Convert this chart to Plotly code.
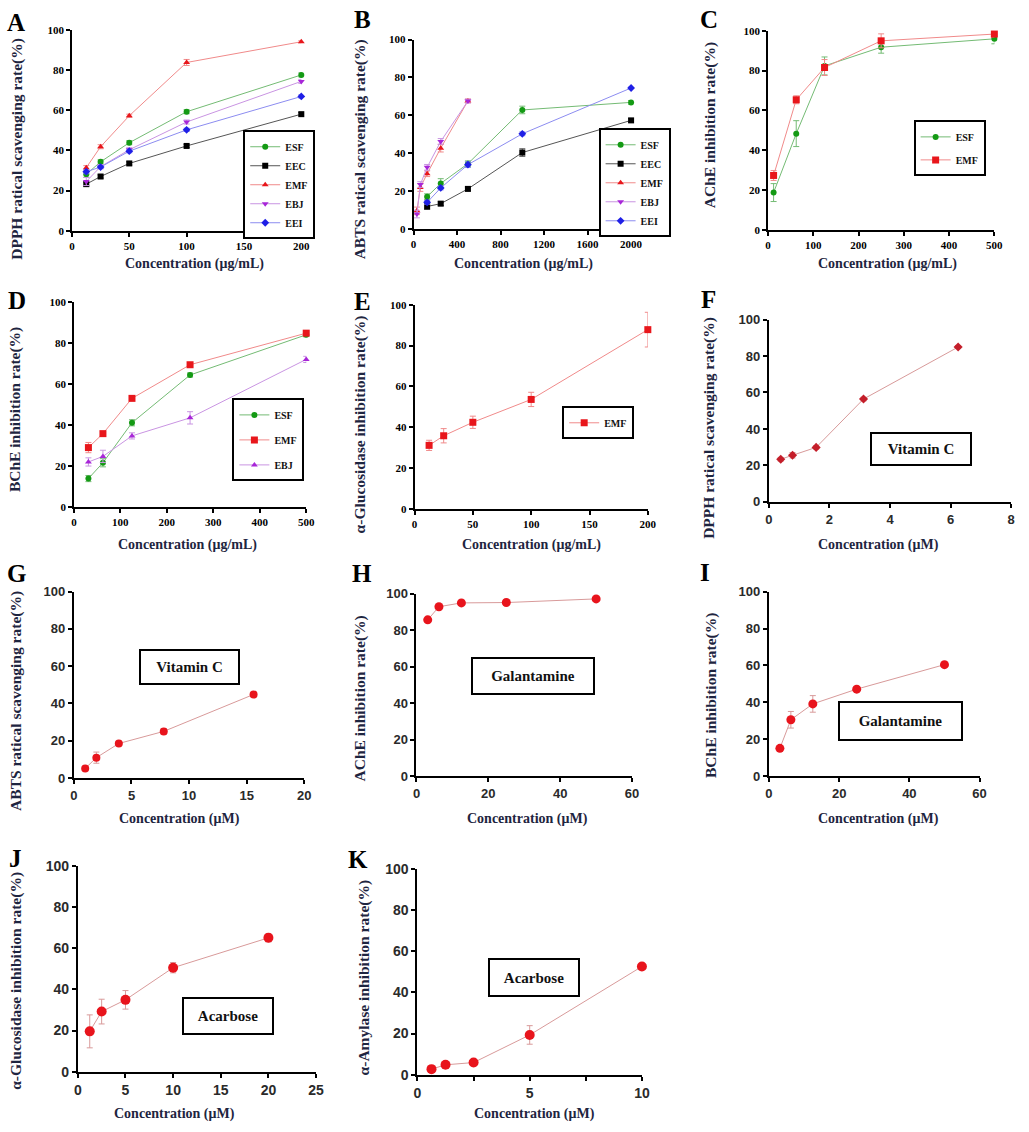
import plotly.graph_objects as go

W, H = 1029, 1132

# ---------------- DATA ----------------
# A: DPPH radical scavenging (extracts)
A_conc = [12.5, 25, 50, 100, 200]
A_ESF = [28.1, 34.3, 43.8, 59.2, 77.5]
A_EEC = [23.2, 27.0, 33.5, 42.2, 58.0]
A_EMF = [31.4, 41.8, 57.2, 83.7, 94.0]
A_EBJ = [24.5, 31.9, 40.3, 54.1, 74.3]
A_EEI = [29.4, 31.7, 39.6, 50.2, 66.8]
A_ESF_err = [1.5, 1.0, 1.0, 1.0, 1.0]
A_EEC_err = [1.0, 0.8, 0.8, 0.8, 0.8]
A_EMF_err = [1.0, 1.0, 0.8, 1.5, 0.5]
A_EBJ_err = [2.0, 1.0, 1.0, 1.0, 1.0]
A_EEI_err = [1.0, 0.8, 0.8, 0.8, 0.8]

# B: ABTS radical scavenging (extracts)
B_conc_low = [31.25, 62.5, 125, 250, 500]
B_conc_high = [125, 250, 500, 1000, 2000]
B_ESF = [17.0, 24.0, 34.4, 62.8, 66.8]
B_EEC = [11.8, 13.3, 21.1, 40.3, 57.3]
B_EMF = [9.5, 21.8, 29.1, 42.6, 67.6]
B_EBJ = [7.8, 23.4, 32.5, 46.2, 67.5]
B_EEI = [14.0, 21.6, 33.9, 50.2, 74.4]
B_ESF_err = [1.5, 2.5, 1.5, 2.0, 1.0]
B_EEC_err = [1.5, 1.0, 1.0, 2.0, 1.0]
B_EMF_err = [2.0, 2.0, 1.5, 2.0, 1.0]
B_EBJ_err = [2.0, 1.5, 1.5, 1.5, 1.0]
B_EEI_err = [1.0, 1.0, 1.5, 1.0, 0.5]

# C: AChE inhibition (extracts)
C_conc = [12.5, 62.5, 125, 250, 500]
C_ESF = [18.7, 48.3, 82.3, 91.7, 95.9]
C_EMF = [27.3, 65.3, 81.5, 94.9, 98.3]
C_ESF_err = [4.5, 6.5, 4.5, 3.0, 2.5]
C_EMF_err = [2.5, 2.0, 4.0, 3.5, 1.5]

# D: BChE inhibition (extracts)
D_conc = [31.25, 62.5, 125, 250, 500]
D_ESF = [13.8, 21.5, 41.0, 64.3, 83.9]
D_EMF = [28.9, 35.7, 52.9, 69.3, 84.7]
D_EBJ = [21.9, 24.6, 34.6, 43.4, 71.9]
D_ESF_err = [1.5, 2.0, 1.5, 1.0, 1.0]
D_EMF_err = [2.5, 1.0, 1.0, 1.0, 1.0]
D_EBJ_err = [2.0, 3.0, 1.5, 3.0, 1.5]

# E: alpha-glucosidase inhibition (EMF)
E_conc = [12.5, 25, 50, 100, 200]
E_EMF = [31.1, 35.8, 42.4, 53.6, 87.8]
E_EMF_err = [2.5, 3.5, 3.0, 3.5, 8.5]

# F: DPPH, Vitamin C
F_conc = [0.39, 0.78, 1.56, 3.125, 6.25]
F_VC = [23.4, 25.6, 29.9, 56.4, 84.9]
F_VC_err = [1.0, 1.5, 1.0, 1.0, 0.8]

# G: ABTS, Vitamin C
G_conc = [0.98, 1.95, 3.9, 7.8, 15.6]
G_VC = [5.1, 10.9, 18.5, 25.0, 44.8]
G_VC_err = [0.8, 3.0, 1.0, 1.5, 0.8]

# H: AChE, Galantamine
H_conc = [3.125, 6.25, 12.5, 25, 50]
H_GAL = [85.6, 92.8, 94.9, 95.1, 97.1]
H_GAL_err = [1.0, 1.0, 0.8, 0.8, 0.5]

# I: BChE, Galantamine
I_conc = [3.125, 6.25, 12.5, 25, 50]
I_GAL = [15.0, 30.5, 39.1, 47.1, 60.4]
I_GAL_err = [1.0, 4.5, 4.5, 1.0, 1.0]

# J: alpha-glucosidase, Acarbose
J_conc = [1.25, 2.5, 5, 10, 20]
J_ACA = [19.6, 29.2, 34.9, 50.5, 65.0]
J_ACA_err = [8.0, 6.0, 4.5, 2.5, 2.0]

# K: alpha-amylase, Acarbose
K_conc = [0.625, 1.25, 2.5, 5, 10]
K_ACA = [2.7, 4.8, 5.9, 19.3, 52.5]
K_ACA_err = [1.5, 1.5, 1.5, 4.5, 1.5]

Y_TICKS = [0, 20, 40, 60, 80, 100]

# ---------------- STYLE ----------------
SERIF = "Liberation Serif, Times New Roman, serif"
SANS = "Liberation Sans, Arial, sans-serif"
TITLE_COLOR = "#1e2540"

STY = {
    "ESF": dict(mc="#149a14", lc="#74bb74", sym="circle"),
    "EEC": dict(mc="#000000", lc="#555555", sym="square"),
    "EMF": dict(mc="#e8161b", lc="#f08a8a", sym="triangle-up"),
    "EBJ": dict(mc="#a826d8", lc="#c994e2", sym="triangle-down"),
    "EEI": dict(mc="#1f1fe6", lc="#8c8cf0", sym="diamond"),
}
STD_MC = "#e8141c"
STD_LC = "#d89a9a"

fig = go.Figure()


def dom_x(x0, x1):
    return [x0 / W, x1 / W]


def dom_y(y0, y1):
    return [1 - y1 / H, 1 - y0 / H]


def ax_names(i):
    s = "" if i == 1 else str(i)
    return "x" + s, "y" + s, "xaxis" + s, "yaxis" + s


def add_series(i, x, y, err, name, mc, lc, sym, msize, legend=None, lw=1.0, group=None):
    xr, yr, _, _ = ax_names(i)
    fig.add_trace(go.Scatter(
        x=x, y=y, name=name, mode="lines+markers",
        xaxis=xr, yaxis=yr, cliponaxis=False,
        line=dict(color=lc, width=lw),
        marker=dict(color=mc, symbol=sym, size=msize, line=dict(width=0)),
        error_y=dict(type="data", array=err, color=lc, thickness=1, width=3),
        showlegend=legend is not None,
        legend=legend if legend else "legend",
        legendgroup=group,
    ))


def setup_axes(i, xd, yd, xrange, xticks, sans, xticktext=None, tsize=11, lw=1.5):
    _, _, xa, ya = ax_names(i)
    xr, yr, _, _ = ax_names(i)
    fam = SANS if sans else SERIF
    tcol = "#2a2a2a" if sans else "#000000"
    common = dict(showline=True, linecolor="#000000", linewidth=lw,
                  ticks="outside", ticklen=4, tickwidth=lw, tickcolor="#000000",
                  showgrid=False, zeroline=False,
                  tickfont=dict(family=fam, size=tsize, color=tcol, weight="bold"))
    xa_d = dict(domain=dom_x(*xd), range=xrange, anchor=yr, tickmode="array",
                tickvals=xticks, **common)
    if xticktext is not None:
        xa_d["ticktext"] = xticktext
    fig.layout[xa] = xa_d
    fig.layout[ya] = dict(domain=dom_y(*yd), range=[0, 100], anchor=xr,
                          tickmode="array", tickvals=Y_TICKS, **common)


# ---- Panel A ----
setup_axes(1, (69, 302), (22, 226), [0, 200], [0, 50, 100, 150, 200], False)
for nm, ys, es in [("ESF", A_ESF, A_ESF_err), ("EEC", A_EEC, A_EEC_err),
                   ("EMF", A_EMF, A_EMF_err), ("EBJ", A_EBJ, A_EBJ_err),
                   ("EEI", A_EEI, A_EEI_err)]:
    s = STY[nm]
    add_series(1, A_conc, ys, es, nm, s["mc"], s["lc"], s["sym"], 6, legend="legend")

# ---- Panel B ----
setup_axes(2, (416, 637), (32, 224), [0, 2000], [0, 400, 800, 1200, 1600, 2000], False)
for nm, xs, ys, es in [("ESF", B_conc_high, B_ESF, B_ESF_err), ("EEC", B_conc_high, B_EEC, B_EEC_err),
                       ("EMF", B_conc_low, B_EMF, B_EMF_err), ("EBJ", B_conc_low, B_EBJ, B_EBJ_err),
                       ("EEI", B_conc_high, B_EEI, B_EEI_err)]:
    s = STY[nm]
    add_series(2, xs, ys, es, nm, s["mc"], s["lc"], s["sym"], 6, legend="legend2")

# ---- Panel C ----
setup_axes(3, (776, 1006), (23, 225), [0, 500], [0, 100, 200, 300, 400, 500], False)
add_series(3, C_conc, C_ESF, C_ESF_err, "ESF", STY["ESF"]["mc"], STY["ESF"]["lc"], "circle", 6,
           legend="legend3", group="c1")
add_series(3, C_conc, C_EMF, C_EMF_err, "EMF", STY["EMF"]["mc"], STY["EMF"]["lc"], "square", 7,
           legend="legend3", group="c2")

# ---- Panel D ----
setup_axes(4, (71, 307), (298, 506), [0, 500], [0, 100, 200, 300, 400, 500], False)
add_series(4, D_conc, D_ESF, D_ESF_err, "ESF", STY["ESF"]["mc"], STY["ESF"]["lc"], "circle", 6,
           legend="legend4", group="d1")
add_series(4, D_conc, D_EMF, D_EMF_err, "EMF", STY["EMF"]["mc"], STY["EMF"]["lc"], "square", 7,
           legend="legend4", group="d2")
add_series(4, D_conc, D_EBJ, D_EBJ_err, "EBJ", STY["EBJ"]["mc"], STY["EBJ"]["lc"], "triangle-up", 6,
           legend="legend4", group="d3")

# ---- Panel E ----
setup_axes(5, (417, 654), (301, 508), [0, 200], [0, 50, 100, 150, 200], False)
add_series(5, E_conc, E_EMF, E_EMF_err, "EMF", STY["EMF"]["mc"], STY["EMF"]["lc"], "square", 7,
           legend="legend5")

# ---- Panel F ----
setup_axes(6, (777, 1023), (316, 501), [0, 8], [0, 2, 4, 6, 8], True, tsize=13, lw=2)
add_series(6, F_conc, F_VC, F_VC_err, "Vitamin C", "#c41e2a", STD_LC, "diamond", 7)

# ---- Panel G ----
setup_axes(7, (71, 305), (592, 781), [0, 20], [0, 5, 10, 15, 20], True, tsize=13, lw=2)
add_series(7, G_conc, G_VC, G_VC_err, "Vitamin C", STD_MC, STD_LC, "circle", 8)

# ---- Panel H ----
setup_axes(8, (419, 638), (594, 779), [0, 60], [0, 20, 40, 60], True, tsize=13, lw=2)
add_series(8, H_conc, H_GAL, H_GAL_err, "Galantamine", STD_MC, STD_LC, "circle", 9)

# ---- Panel I ----
setup_axes(9, (777, 991), (592, 779), [0, 60], [0, 20, 40, 60], True, tsize=13, lw=2)
add_series(9, I_conc, I_GAL, I_GAL_err, "Galantamine", STD_MC, STD_LC, "circle", 9)

# ---- Panel J ----
setup_axes(10, (75, 317), (870, 1079), [0, 25], [0, 5, 10, 15, 20, 25], True, tsize=14, lw=2)
add_series(10, J_conc, J_ACA, J_ACA_err, "Acarbose", STD_MC, STD_LC, "circle", 10)

# ---- Panel K ----
setup_axes(11, (420, 648), (873, 1082), [0, 10], [0, 2.5, 5, 7.5, 10], True,
           xticktext=["0", "", "5", "", "10"], tsize=14, lw=2)
add_series(11, K_conc, K_ACA, K_ACA_err, "Acarbose", STD_MC, STD_LC, "circle", 10)

# ---------------- LEGENDS ----------------
def leg(x0, y0, gap=0):
    return dict(x=x0 / W, y=1 - y0 / H, xanchor="left", yanchor="top",
                bgcolor="white", bordercolor="black", borderwidth=2,
                font=dict(family=SERIF, size=10, color="#111111", weight="bold"),
                itemwidth=30, tracegroupgap=gap, traceorder="grouped",
                itemclick=False, itemdoubleclick=False)

fig.update_layout(
    legend=leg(243, 124),
    legend2=leg(604, 122),
    legend3=leg(924, 114, gap=4),
    legend4=leg(232, 396, gap=6),
    legend5=leg(567, 404),
)

# ---------------- TEXT ----------------
ann = []
panel_letters = [("A", 12, 15), ("B", 364, 12), ("C", 716, 12), ("D", 13, 297),
                 ("E", 364, 298), ("F", 716, 296), ("G", 13, 574), ("H", 364, 574),
                 ("I", 712, 573), ("J", 12, 863), ("K", 360, 864)]
for t, cx, cy in panel_letters:
    ann.append(dict(text=t, x=cx / W, y=1 - cy / H, xref="paper", yref="paper",
                    xanchor="center", yanchor="middle", showarrow=False,
                    font=dict(family=SERIF, size=25, color="#000000", weight="bold")))

ytitles = [("DPPH ratical scavenging rate(%)", 13, 143),
           ("ABTS ratical scavenging rate(%)", 362, 143),
           ("AChE inhibition rate(%)", 717, 119),
           ("BChE inhibition rate(%)", 11, 407),
           ("α-Glucosidase inhibition rate(%)", 362, 422),
           ("DPPH ratical scavenging rate(%)", 716, 426),
           ("ABTS ratical scavenging rate(%)", 12, 703),
           ("AChE inhibition rate(%)", 362, 700),
           ("BChE inhibition rate(%)", 718, 697),
           ("α-Glucosidase inhibition rate(%)", 12, 987),
           ("α-Amylase inhibition rate(%)", 366, 983)]
for t, cx, cy in ytitles:
    ann.append(dict(text=t, x=cx / W, y=1 - cy / H, xref="paper", yref="paper",
                    xanchor="center", yanchor="middle", textangle=-90, showarrow=False,
                    font=dict(family=SERIF, size=15.5, color=TITLE_COLOR, weight="bold")))

xtitles = [("Concentration (μg/mL)", 194, 260), ("Concentration (μg/mL)", 528, 260),
           ("Concentration (μg/mL)", 897, 260), ("Concentration (μg/mL)", 186, 545),
           ("Concentration (μg/mL)", 536, 545), ("Concentration (μM)", 888, 545),
           ("Concentration (μM)", 178, 823), ("Concentration (μM)", 532, 823),
           ("Concentration (μM)", 888, 823), ("Concentration (μM)", 173, 1122),
           ("Concentration (μM)", 539, 1122)]
for t, cx, cy in xtitles:
    ann.append(dict(text=t, x=cx / W, y=1 - cy / H, xref="paper", yref="paper",
                    xanchor="center", yanchor="middle", showarrow=False,
                    font=dict(family=SERIF, size=14, color=TITLE_COLOR, weight="bold")))

boxes = [("Vitamin C", 931, 447, 98, 30), ("Vitamin C", 188, 668, 97, 32),
         ("Galantamine", 537, 678, 120, 34), ("Galantamine", 911, 723, 121, 36),
         ("Acarbose", 228, 1022, 88, 34), ("Acarbose", 538, 983, 88, 35)]
for t, cx, cy, bw, bh in boxes:
    ann.append(dict(text=t, x=cx / W, y=1 - cy / H, xref="paper", yref="paper",
                    xanchor="center", yanchor="middle", showarrow=False,
                    width=bw, height=bh, bgcolor="white", bordercolor="black",
                    borderwidth=2, borderpad=0,
                    font=dict(family=SERIF, size=15, color="#111111", weight="bold")))

fig.update_layout(
    width=W, height=H, margin=dict(l=0, r=0, t=0, b=0),
    paper_bgcolor="white", plot_bgcolor="white",
    annotations=ann,
)

fig.write_html("out.html", config={"displayModeBar": False},
               post_script="document.body.style.margin='0px';")
